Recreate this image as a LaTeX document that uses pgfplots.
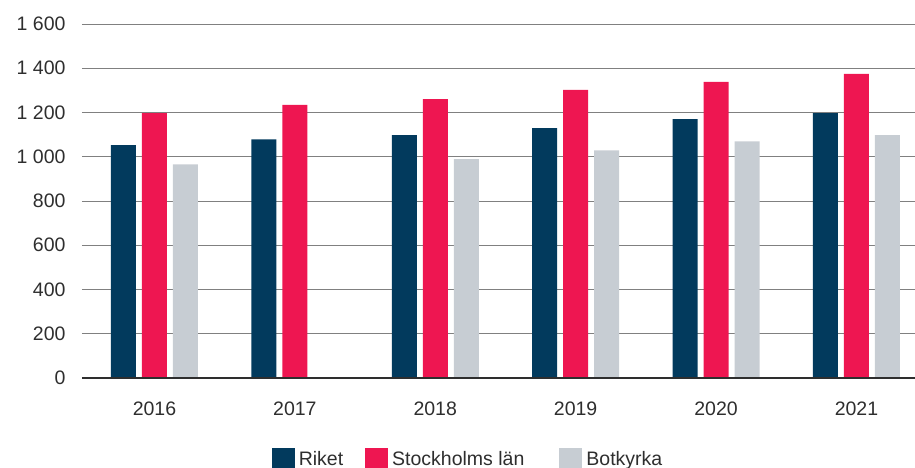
\documentclass[border=0pt]{standalone}
\usepackage{pgfplots}
\pgfplotsset{compat=1.18}
\usepackage{fontspec}
\setmainfont{Liberation Sans}
\definecolor{riket}{HTML}{023A5D}
\definecolor{sthlm}{HTML}{EE1651}
\definecolor{botk}{HTML}{C7CDD3}
\definecolor{txt}{HTML}{2E2E2E}
\begin{document}
\begin{tikzpicture}
\useasboundingbox (-82pt,-90pt) rectangle (833pt,378pt);
\begin{axis}[
  scale only axis,
  width=833pt, height=354pt,
  ybar=6pt, bar width=25pt,
  xmin=-0.516, xmax=5.417,
  ymin=0, ymax=1600,
  xtick={0,1,2,3,4,5},
  xticklabels={2016,2017,2018,2019,2020,2021},
  ytick={0,200,400,600,800,1000,1200,1400,1600},
  yticklabels={0,200,400,600,800,1 000,1 200,1 400,1 600},
  major tick length=0pt,
  axis line style={draw=none},
  ymajorgrids,
  grid style={color=black!50, line width=0.9pt},
  tick label style={font=\fontsize{19.5}{22}\selectfont, text=txt},
  yticklabel style={xshift=-13pt},
  xticklabel style={yshift=-20pt},
  legend style={draw=none, fill=none, at={(axis description cs:0.4634,0)}, anchor=center, yshift=-81pt,
    legend columns=-1, font=\fontsize{19.5}{22}\selectfont, text=txt,
    /tikz/every even column/.append style={column sep=20pt}},
  legend image code/.code={\fill[#1] (0pt,-11.5pt) rectangle (23pt,11.5pt);},
  clip=false,
]
\addplot[fill=riket, draw=none] coordinates {(0,1052) (1,1079) (2,1098) (3,1129) (4,1170) (5,1197)};
\addplot[fill=sthlm, draw=none] coordinates {(0,1197) (1,1234) (2,1261) (3,1302) (4,1338) (5,1374)};
\addplot[fill=botk, draw=none] coordinates {(0,966) (1,0) (2,989) (3,1029) (4,1070) (5,1098)};
\legend{\kern2pt Riket, \kern2pt Stockholms län\kern13pt, \kern2pt Botkyrka}
\draw[line width=2.2pt, color=txt] (rel axis cs:0,0) -- (rel axis cs:1,0);
\end{axis}
\end{tikzpicture}
\end{document}
